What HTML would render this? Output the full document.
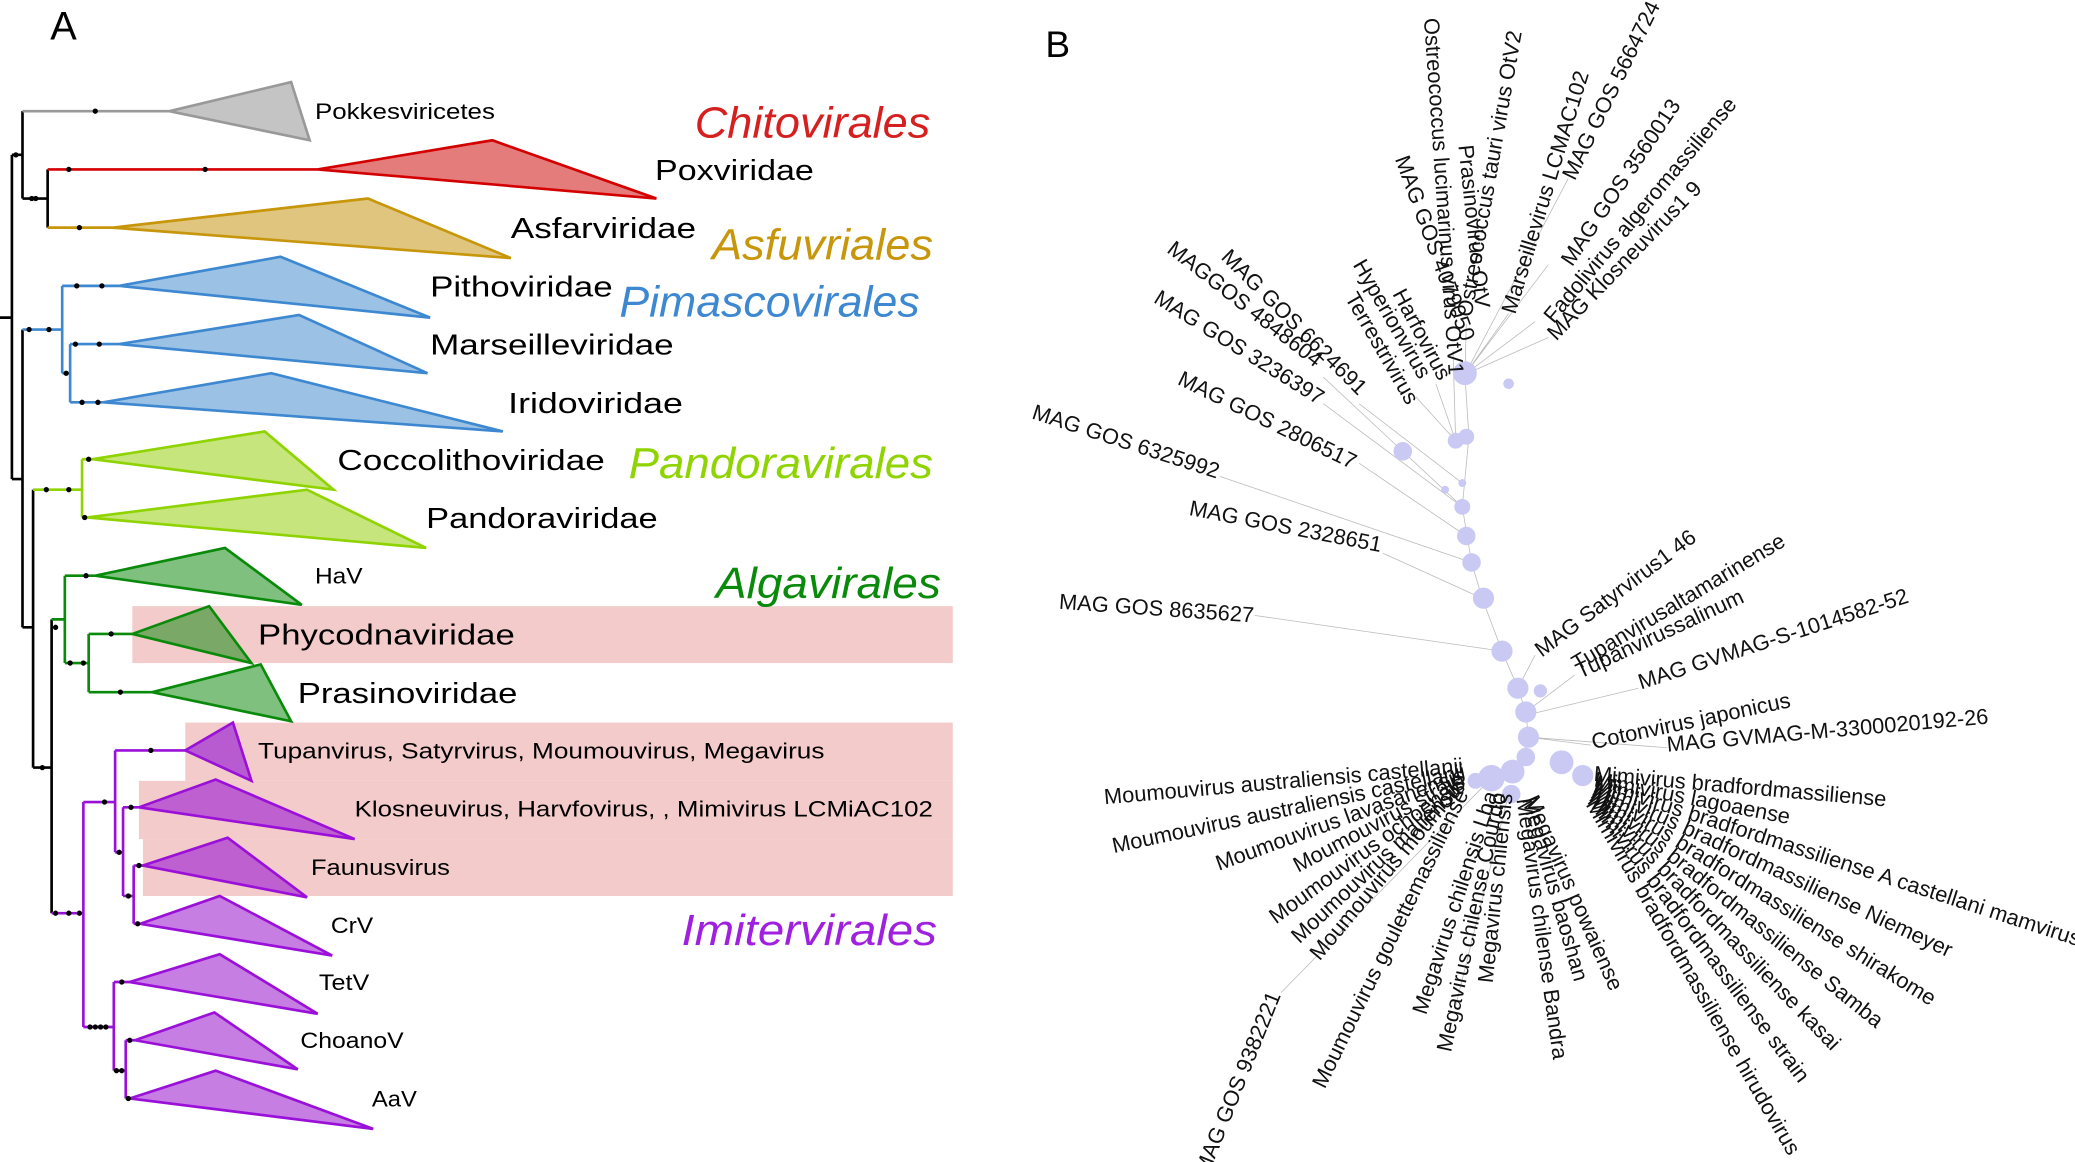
<!DOCTYPE html>
<html><head><meta charset="utf-8"><style>
html,body{margin:0;padding:0;background:#fff;}
svg{display:block;}
text{font-family:"Liberation Sans Narrow","Liberation Sans",sans-serif;}
.b text{font-family:"Liberation Sans",sans-serif;font-size:16.5px;fill:#111;}
</style></head><body>
<svg width="2075" height="1162" viewBox="0 0 1568 878" preserveAspectRatio="none" xmlns="http://www.w3.org/2000/svg">
<rect width="1568" height="878" fill="#fff"/>
<g fill="#f3cbcb">
<rect x="100" y="458" width="620" height="43"/>
<rect x="140" y="546" width="580" height="44"/>
<rect x="105" y="590" width="615" height="44"/>
<rect x="108" y="634" width="612" height="43"/>
</g>
<text x="38" y="30" font-size="30" fill="#000">A</text>
<g stroke="#000" stroke-width="2" fill="none">
<path d="M0 240H9M9 117V362M9 117H17M17 84V150M17 150H36M36 128V172M9 362H17M17 249V474M17 474H25M25 370V580M25 580H39M39 468V690"/>
</g>
<g stroke-width="2">
<path d="M17 84H128" stroke="#999"/>
<polygon points="128,84 220,62 234,106" fill="#c4c4c4" stroke="#999"/>
<path d="M36 128H240" stroke="#d40000"/>
<polygon points="240,128 372,106 496,150" fill="#e57c7c" stroke="#d40000"/>
<path d="M36 172H85" stroke="#c8960a"/>
<polygon points="85,172 278,150 386,195" fill="#dfc57e" stroke="#c8960a"/>
<path d="M17 249H47M47 216V282M47 282H53M53 260V304M47 216H90M53 260H90M53 304H78" stroke="#3d88d0" fill="none"/>
<polygon points="90,216 212,194 325,240" fill="#9bc1e4" stroke="#3d88d0"/>
<polygon points="90,260 226,238 323,282" fill="#9bc1e4" stroke="#3d88d0"/>
<polygon points="78,304 205,282 380,326" fill="#9bc1e4" stroke="#3d88d0"/>
<path d="M25 370H62M62 347V391M62 347H70M62 391H66" stroke="#8fd400" fill="none"/>
<polygon points="70,347 200,326 252,370" fill="#c6e57c" stroke="#8fd400"/>
<polygon points="66,391 232,370 322,414" fill="#c6e57c" stroke="#8fd400"/>
<path d="M39 468H49M49 435V501M49 435H72M49 501H67M67 479V523M67 479H100M67 523H115" stroke="#0a8a0a" fill="none"/>
<polygon points="72,435 170,414 228,457" fill="#7fc07f" stroke="#0a8a0a"/>
<polygon points="100,479 158,458 190,501" fill="#7aa866" stroke="#0a8a0a"/>
<polygon points="115,523 197,502 220,545" fill="#7fc07f" stroke="#0a8a0a"/>
<path d="M39 690H63M63 606V776M63 606H87M87 567V644M87 567H140M87 644H93M93 610V677M93 610H105M93 677H101M101 654V698M101 654H108M101 698H106M63 776H86M86 742V809M86 742H98M86 809H95M95 786V830M95 786H102M95 830H98" stroke="#9a10d8" fill="none"/>
<g stroke="#9a10d8">
<polygon points="140,567 176,546 190,590" fill="#b85ad0"/>
<polygon points="105,610 163,589 268,634" fill="#bf60d0"/>
<polygon points="108,654 172,633 232,678" fill="#bf60d0"/>
<polygon points="106,698 166,677 251,722" fill="#c77ee2"/>
<polygon points="98,742 166,721 240,766" fill="#c77ee2"/>
<polygon points="102,786 162,765 225,808" fill="#c77ee2"/>
<polygon points="98,830 163,809 282,853" fill="#c77ee2"/>
</g>
</g>
<g fill="#000">
<circle cx="72" cy="84" r="2"/><circle cx="52" cy="128" r="2"/><circle cx="155" cy="128" r="2"/><circle cx="60" cy="172" r="2"/>
<circle cx="12" cy="117" r="2"/><circle cx="24" cy="150" r="2"/><circle cx="27" cy="150" r="2"/>
<circle cx="58" cy="216" r="2"/><circle cx="77" cy="216" r="2"/><circle cx="57" cy="260" r="2"/><circle cx="75" cy="260" r="2"/><circle cx="62" cy="304" r="2"/><circle cx="74" cy="304" r="2"/><circle cx="22" cy="249" r="2"/><circle cx="37" cy="249" r="2"/><circle cx="50" cy="282" r="2"/>
<circle cx="67" cy="347" r="2"/><circle cx="64" cy="391" r="2"/><circle cx="35" cy="370" r="2"/><circle cx="52" cy="370" r="2"/>
<circle cx="65" cy="435" r="2"/><circle cx="42" cy="474" r="2"/><circle cx="53" cy="501" r="2"/><circle cx="63" cy="501" r="2"/><circle cx="84" cy="479" r="2"/><circle cx="91" cy="523" r="2"/><circle cx="32" cy="580" r="2"/>
<circle cx="114" cy="567" r="2"/><circle cx="79" cy="606" r="2"/><circle cx="99" cy="610" r="2"/><circle cx="90" cy="644" r="2"/><circle cx="105" cy="654" r="2"/><circle cx="97" cy="677" r="2"/><circle cx="104" cy="698" r="2"/>
<circle cx="42" cy="690" r="2"/><circle cx="52" cy="690" r="2"/><circle cx="60" cy="690" r="2"/>
<circle cx="92" cy="742" r="2"/><circle cx="68" cy="776" r="2"/><circle cx="72" cy="776" r="2"/><circle cx="76" cy="776" r="2"/><circle cx="80" cy="776" r="2"/><circle cx="88" cy="809" r="2"/><circle cx="92" cy="809" r="2"/><circle cx="98" cy="786" r="2"/><circle cx="97" cy="830" r="2"/>
</g>
<g fill="#000">
<text x="238" y="90" font-size="17" textLength="136" lengthAdjust="spacingAndGlyphs">Pokkesviricetes</text>
<text x="495" y="136" font-size="22" textLength="120" lengthAdjust="spacingAndGlyphs">Poxviridae</text>
<text x="386" y="180" font-size="22" textLength="140" lengthAdjust="spacingAndGlyphs">Asfarviridae</text>
<text x="325" y="224" font-size="22" textLength="138" lengthAdjust="spacingAndGlyphs">Pithoviridae</text>
<text x="325" y="268" font-size="22" textLength="184" lengthAdjust="spacingAndGlyphs">Marseilleviridae</text>
<text x="384" y="312" font-size="22" textLength="132" lengthAdjust="spacingAndGlyphs">Iridoviridae</text>
<text x="255" y="355" font-size="22" textLength="202" lengthAdjust="spacingAndGlyphs">Coccolithoviridae</text>
<text x="322" y="399" font-size="22" textLength="175" lengthAdjust="spacingAndGlyphs">Pandoraviridae</text>
<text x="238" y="441" font-size="17" textLength="36" lengthAdjust="spacingAndGlyphs">HaV</text>
<text x="195" y="487" font-size="22" textLength="194" lengthAdjust="spacingAndGlyphs">Phycodnaviridae</text>
<text x="225" y="531" font-size="22" textLength="166" lengthAdjust="spacingAndGlyphs">Prasinoviridae</text>
<text x="195" y="573" font-size="17" textLength="428" lengthAdjust="spacingAndGlyphs">Tupanvirus, Satyrvirus, Moumouvirus, Megavirus</text>
<text x="268" y="617" font-size="17" textLength="437" lengthAdjust="spacingAndGlyphs">Klosneuvirus, Harvfovirus, , Mimivirus LCMiAC102</text>
<text x="235" y="661" font-size="17" textLength="105" lengthAdjust="spacingAndGlyphs">Faunusvirus</text>
<text x="250" y="705" font-size="17" textLength="32" lengthAdjust="spacingAndGlyphs">CrV</text>
<text x="241" y="748" font-size="17" textLength="38" lengthAdjust="spacingAndGlyphs">TetV</text>
<text x="227" y="792" font-size="17" textLength="78" lengthAdjust="spacingAndGlyphs">ChoanoV</text>
<text x="281" y="836" font-size="17" textLength="34" lengthAdjust="spacingAndGlyphs">AaV</text>
</g>
<g font-style="italic" font-size="33">
<text x="525" y="104" fill="#d62020" textLength="178" lengthAdjust="spacingAndGlyphs">Chitovirales</text>
<text x="538" y="196" fill="#c8960a" textLength="167" lengthAdjust="spacingAndGlyphs">Asfuvriales</text>
<text x="468" y="239" fill="#3d88d0" textLength="227" lengthAdjust="spacingAndGlyphs">Pimascovirales</text>
<text x="475" y="361" fill="#8fd400" textLength="230" lengthAdjust="spacingAndGlyphs">Pandoravirales</text>
<text x="541" y="452" fill="#0a8a0a" textLength="170" lengthAdjust="spacingAndGlyphs">Algavirales</text>
<text x="515" y="714" fill="#a020e0" textLength="193" lengthAdjust="spacingAndGlyphs">Imitervirales</text>
</g>

<text x="790" y="43" font-size="28" fill="#000">B</text>
<g class="b">
<g stroke="#bbb" stroke-width="0.6" fill="none">
<path d="M1107 283L1110 330L1105 383L1112 425L1120 452L1135 492L1147 520L1153 538L1155 557L1150 575"/>
<path d="M1107 283L1108 245M1107 283L1140 237M1107 283L1185 135M1107 283L1170 200M1107 283L1160 243M1107 283L1170 255"/>
<path d="M1100 333L1098 265M1100 333L1085 290M1100 333L1070 300M1105 365L1027 305M1105 383L1000 285M1105 383L1000 305M1108 405L1027 350M1112 425L922 360M1120 452L1045 418M1135 492L948 465"/>
<path d="M1147 520L1160 495M1153 538L1190 510M1155 540L1238 520M1155 557L1202 563M1155 557L1260 565"/>
<path d="M1127 588L968 750M1140 600L1100 760"/>
</g>
<g fill="#c9c9f4">
<circle cx="1107" cy="282" r="9"/><circle cx="1140" cy="290" r="4"/><circle cx="1100" cy="333" r="6"/><circle cx="1108" cy="330" r="6"/><circle cx="1060" cy="341" r="7"/><circle cx="1105" cy="365" r="3"/><circle cx="1092" cy="370" r="3"/><circle cx="1105" cy="383" r="6"/><circle cx="1108" cy="405" r="7"/><circle cx="1112" cy="425" r="7"/><circle cx="1121" cy="452" r="8"/><circle cx="1135" cy="492" r="8"/><circle cx="1147" cy="520" r="8"/><circle cx="1164" cy="522" r="5"/><circle cx="1153" cy="538" r="8"/><circle cx="1155" cy="557" r="8"/><circle cx="1153" cy="572" r="7"/><circle cx="1180" cy="576" r="9"/><circle cx="1127" cy="588" r="10"/><circle cx="1143" cy="583" r="9"/><circle cx="1142" cy="600" r="7"/><circle cx="1196" cy="586" r="8"/><circle cx="1115" cy="590" r="6"/>
</g>
<text text-anchor="start" transform="translate(1076,14) rotate(86)">Ostreococcus lucimarinus virus OtV1</text>
<text text-anchor="start" transform="translate(1102,110) rotate(84)">Prasinovirus OtV</text>
<text text-anchor="start" transform="translate(1054,120) rotate(70)">MAG GOS 4079050</text>
<text text-anchor="start" transform="translate(1052,222) rotate(62)">Harfovirus</text>
<text text-anchor="start" transform="translate(1022,200) rotate(60)">Hyperionvirus</text>
<text text-anchor="start" transform="translate(1016,225) rotate(60)">Terrestrivirus</text>
<text text-anchor="start" transform="translate(922,195) rotate(45)">MAG GOS 6624691</text>
<text text-anchor="start" transform="translate(881,190) rotate(38)">MAGGOS 4848604</text>
<text text-anchor="start" transform="translate(871,228) rotate(32)">MAG GOS 3236397</text>
<text text-anchor="start" transform="translate(889,290) rotate(26)">MAG GOS 2806517</text>
<text text-anchor="start" transform="translate(779,316) rotate(18)">MAG GOS 6325992</text>
<text text-anchor="start" transform="translate(898,389) rotate(11)">MAG GOS 2328651</text>
<text text-anchor="start" transform="translate(800,460) rotate(4)">MAG GOS 8635627</text>
<text transform="translate(1112,240) rotate(-80)">Ostreococcus tauri virus OtV2</text>
<text transform="translate(1145,238) rotate(-73)">Marseillevirus LCMAC102</text>
<text transform="translate(1190,137) rotate(-64)">MAG GOS 5664724</text>
<text transform="translate(1188,202) rotate(-56)">MAG GOS 3560013</text>
<text transform="translate(1174,245) rotate(-50)">Fadolivirus algeromassiliense</text>
<text transform="translate(1176,258) rotate(-46)">MAG Klosneuvirus1 9</text>
<text transform="translate(1165,497) rotate(-37)">MAG Satyrvirus1 46</text>
<text transform="translate(1192,507) rotate(-31)">Tupanvirusaltamarinense</text>
<text transform="translate(1194,513) rotate(-25)">Tupanvirussalinum</text>
<text transform="translate(1240,521) rotate(-18)">MAG GVMAG-S-1014582-52</text>
<text transform="translate(1204,566) rotate(-12)">Cotonvirus japonicus</text>
<text transform="translate(1260,568) rotate(-5)">MAG GVMAG-M-3300020192-26</text>
<text transform="translate(1204,590) rotate(5)">Mimivirus bradfordmassiliense</text>
<text transform="translate(1204,594) rotate(11)">Mimivirus lagoaense</text>
<text transform="translate(1204,596) rotate(18)">Mimivirus bradfordmassiliense A castellani mamvirus</text>
<text transform="translate(1203,598) rotate(25)">Mimivirus bradfordmassiliense Niemeyer</text>
<text transform="translate(1202,600) rotate(32)">Mimivirus bradfordmassiliense shirakome</text>
<text transform="translate(1201,602) rotate(39)">Mimivirus bradfordmassiliense Samba</text>
<text transform="translate(1200,604) rotate(46)">Mimivirus bradfordmassiliense kasai</text>
<text transform="translate(1199,606) rotate(53)">Mimivirus bradfordmassiliense strain</text>
<text transform="translate(1198,608) rotate(60)">Mimivirus bradfordmassiliense hirudovirus</text>
<text transform="translate(1152,604) rotate(66)">Megavirus powaiense</text>
<text transform="translate(1150,604) rotate(74)">Megavirus baoshan</text>
<text transform="translate(1146,604) rotate(82)">Megavirus chilense Bandra</text>
<text text-anchor="end" transform="translate(1143,600) rotate(-84)">Megavirus chilensis</text>
<text text-anchor="end" transform="translate(1138,600) rotate(-78)">Megavirus chilense Courdo</text>
<text text-anchor="end" transform="translate(1132,600) rotate(-72)">Megavirus chilensis Lba</text>
<text text-anchor="end" transform="translate(1110,600) rotate(-64)">Moumouvirus goulettemassiliense</text>
<text text-anchor="end" transform="translate(968,752) rotate(-68)">MAG GOS 9382221</text>
<text text-anchor="end" transform="translate(1105,598) rotate(-50)">Moumouvirus moumou</text>
<text text-anchor="end" transform="translate(1108,596) rotate(-43)">Moumouvirus maliensis</text>
<text text-anchor="end" transform="translate(1108,594) rotate(-36)">Moumouvirus ochoensis</text>
<text text-anchor="end" transform="translate(1108,592) rotate(-28)">Moumouvirus strain</text>
<text text-anchor="end" transform="translate(1108,590) rotate(-20)">Moumouvirus lavasanensis</text>
<text text-anchor="end" transform="translate(1108,588) rotate(-12)">Moumouvirus australiensis castellanii</text>
<text text-anchor="end" transform="translate(1106,584) rotate(-5)">Moumouvirus australiensis castellanii</text>
</g>
</svg>
</body></html>
